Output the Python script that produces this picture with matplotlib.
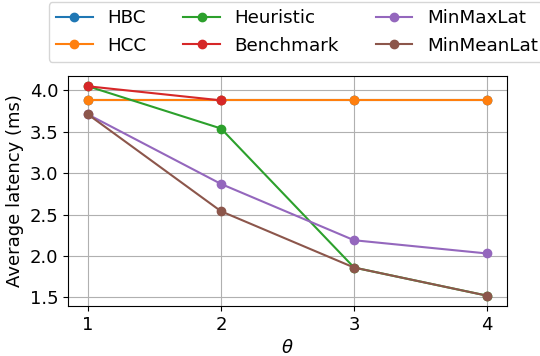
import matplotlib
matplotlib.use("Agg")
import matplotlib.pyplot as plt
import numpy as np

# theta values and average latency (ms) per method
theta = [1, 2, 3, 4]
hbc = [3.88, 3.88, 3.88, 3.88]
hcc = [3.88, 3.88, 3.88, 3.88]
heuristic = [4.05, 3.54, 1.86, 1.52]
benchmark = [4.05, 3.88, np.nan, np.nan]
minmaxlat = [3.71, 2.87, 2.19, 2.03]
minmeanlat = [3.71, 2.54, 1.86, 1.52]

labels = ["HBC", "HCC", "Heuristic", "Benchmark", "MinMaxLat", "MinMeanLat"]
series = [hbc, hcc, heuristic, benchmark, minmaxlat, minmeanlat]

plt.rcParams["font.size"] = 13

fig = plt.figure(figsize=(5.4, 3.56), dpi=100)
ax = fig.add_axes([0.126, 0.140, 0.813, 0.647])

lines = []
for lab, vals in zip(labels, series):
    ln, = ax.plot(theta, vals, marker="o", label=lab)
    lines.append(ln)

ax.set_xticks(theta)
ax.set_yticks([1.5, 2.0, 2.5, 3.0, 3.5, 4.0])
ax.set_xlabel(r"$\theta$")
ax.set_ylabel("Average latency (ms)")
ax.grid(True)

fig.legend(handles=lines, loc="upper right", bbox_to_anchor=(1.01, 0.994),
           borderaxespad=0, ncol=3, fontsize=13.2)

fig.savefig("out.png", dpi=100)
